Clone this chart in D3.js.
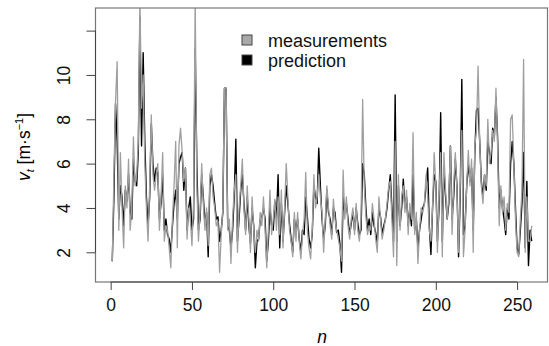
<!DOCTYPE html>
<html><head><meta charset="utf-8">
<script src="https://cdn.jsdelivr.net/npm/d3@7"></script>
<style>body{margin:0;background:#fff}svg{display:block}text{font-family:"Liberation Sans",Arial,Helvetica,sans-serif}</style>
</head><body><div id="chart"></div>
<script>
const measurements = [1.6,5.5,8.8,10.6,3.0,6.5,4.0,2.2,5.0,4.0,6.2,3.0,4.0,7.2,5.0,5.5,7.0,13.5,8.5,10.0,
6.0,4.0,2.5,5.0,8.2,5.5,4.8,5.5,6.0,3.0,4.5,6.5,2.5,3.2,3.0,2.2,1.3,3.5,5.0,7.0,
2.2,6.8,7.6,6.5,5.2,5.8,2.6,4.0,3.5,2.3,4.2,13.5,5.0,2.5,3.8,6.0,4.2,3.0,4.0,2.3,
5.5,5.8,4.5,4.0,3.2,3.4,1.1,2.8,4.0,9.4,9.4,3.0,3.5,1.5,3.5,4.8,5.5,2.0,4.0,5.0,
6.2,4.0,2.8,5.0,3.5,2.0,4.5,3.0,2.0,3.0,2.5,3.8,3.2,4.5,3.0,1.3,3.0,4.8,2.8,3.5,
4.4,3.0,4.5,2.8,4.8,2.2,4.0,6.0,4.5,3.0,2.5,1.8,3.8,2.5,3.8,2.5,1.7,2.8,3.5,5.6,
3.0,2.2,1.7,3.0,5.5,4.0,4.5,5.5,4.5,3.8,2.0,3.5,5.0,4.0,3.2,2.6,4.4,3.5,3.0,2.6,
2.2,1.6,5.7,3.5,4.5,3.2,2.6,3.5,4.0,2.8,4.2,3.0,2.5,3.5,8.9,5.0,3.6,2.8,3.2,3.0,
4.2,3.5,2.6,2.0,4.5,3.5,2.6,3.0,3.5,4.2,5.0,5.2,3.5,1.8,7.0,1.4,5.5,3.0,4.5,5.0,
3.8,4.8,2.8,4.2,3.5,7.4,2.8,3.8,1.5,3.0,4.0,3.8,4.2,5.5,4.5,3.0,2.5,4.0,6.5,5.0,
2.0,4.5,6.5,1.8,6.5,4.8,3.5,4.5,6.8,2.8,5.0,6.5,4.8,2.0,5.0,7.5,1.8,3.0,5.0,6.6,
5.0,6.2,2.0,6.8,7.5,10.4,7.0,5.0,4.2,5.5,5.0,8.0,6.0,6.5,7.5,7.0,9.4,6.8,3.2,5.0,
3.8,4.5,3.0,4.2,3.8,8.0,8.2,6.0,3.5,2.0,1.8,3.5,4.8,10.7,2.0,4.5,2.5,2.5,3.2];
const prediction = [1.6,4.5,8.7,7.0,3.5,5.0,4.5,3.2,4.8,4.3,5.5,3.8,3.5,6.2,5.2,5.0,6.5,12.6,6.8,11.0,
7.0,4.5,3.2,4.5,7.8,6.0,5.2,5.8,5.6,3.5,4.2,5.5,3.0,3.5,2.8,2.6,2.0,3.2,4.2,4.8,
3.5,6.0,6.3,6.5,4.8,5.8,3.0,4.0,4.5,3.0,3.5,11.2,6.0,3.0,3.5,5.5,4.5,3.3,3.8,1.8,
5.0,5.5,5.0,4.2,3.5,3.6,2.5,3.0,3.8,9.4,9.4,3.2,3.0,2.2,3.0,4.5,7.1,2.5,3.5,4.8,
5.5,4.2,3.0,4.5,3.2,2.4,4.0,3.2,1.3,2.5,2.6,3.5,3.6,4.0,3.5,1.6,2.5,4.0,3.2,3.0,
4.3,3.5,5.5,2.2,4.2,2.5,3.8,5.0,4.2,3.3,2.6,2.0,3.5,3.0,3.5,2.6,2.0,3.0,2.8,4.5,
3.6,2.6,2.2,2.8,5.0,4.5,4.2,6.7,5.0,3.5,2.6,3.2,4.8,3.8,3.5,2.8,4.0,3.8,2.9,3.0,
2.4,1.1,4.5,3.8,4.2,3.5,2.8,3.3,3.8,3.0,4.0,3.3,2.8,3.0,6.0,5.5,4.0,3.0,3.5,2.8,
3.8,3.2,2.9,2.4,4.0,3.6,2.8,3.2,3.5,4.0,4.8,5.5,4.0,2.5,9.1,2.5,5.0,3.2,4.0,5.3,
4.0,4.5,3.2,4.0,3.2,5.5,3.0,3.5,2.2,3.0,3.5,4.0,4.2,5.0,5.8,3.2,1.9,4.0,5.5,5.2,
2.5,4.0,8.3,2.5,5.8,4.5,3.5,4.2,6.8,3.5,4.5,6.2,5.0,1.8,4.5,9.8,2.8,3.2,5.0,6.0,
5.2,5.8,3.0,6.5,8.4,8.5,7.0,5.2,4.5,5.5,4.8,7.0,6.5,6.0,7.6,7.2,9.0,7.2,4.0,4.8,
4.0,3.5,2.8,4.0,3.5,6.0,7.0,6.0,4.0,2.2,1.9,3.0,4.2,6.5,2.2,5.2,1.4,3.0,2.5];
const xTicks = [0,50,100,150,200,250];
const yTicks = [2,4,6,8,10,12];
const yTickLabels = ["2","4","6","8","10",""];
const seriesNames = ["measurements","prediction"];
const seriesColors = ["#a9a9a9","#000000"];

const W=549,H=346, L=95.5, R=548.5, T=8, B=282;
const svg=d3.select("#chart").append("svg").attr("width",W).attr("height",H);
const x=d3.scaleLinear().domain([-9.32,269.32]).range([L,R]);
const y=d3.scaleLinear().domain([0.66,13.02]).range([B,T]);
const fs=17.5;

svg.append("clipPath").attr("id","clip").append("rect").attr("x",L).attr("y",T).attr("width",R-L).attr("height",B-T);

const line=d3.line().x((d,i)=>x(i+1)).y(d=>y(d));
const g=svg.append("g").attr("clip-path","url(#clip)");
g.append("path").datum(prediction).attr("d",line).attr("fill","none").attr("stroke",seriesColors[1]).attr("stroke-width",1.4).attr("stroke-linejoin","round");
g.append("path").datum(measurements).attr("d",line).attr("fill","none").attr("stroke","#9f9f9f").attr("stroke-width",1.3).attr("stroke-linejoin","round");

// box
svg.append("rect").attr("x",L).attr("y",T).attr("width",R-L-1).attr("height",B-T).attr("fill","none").attr("stroke","#777").attr("stroke-width",1.2);

// x axis
const xa=svg.append("g").attr("transform",`translate(0,${B})`).call(d3.axisBottom(x).tickValues(xTicks).tickSize(8).tickPadding(9));
xa.select(".domain").attr("d",`M${x(0)},0H${x(250)}`).attr("stroke","#444");
xa.selectAll(".tick line").attr("stroke","#444");
xa.selectAll("text").attr("font-size",fs).attr("fill","#111").attr("font-family","Liberation Sans, Arial, sans-serif");

// y axis
const ya=svg.append("g").attr("transform",`translate(${L},0)`).call(d3.axisLeft(y).tickValues(yTicks).tickSize(9).tickFormat((d,i)=>yTickLabels[i]));
ya.select(".domain").attr("d",`M0,${y(2)}V${y(12)}`).attr("stroke","#444");
ya.selectAll(".tick line").attr("stroke","#444");
ya.selectAll("text").attr("font-size",fs).attr("fill","#111").attr("font-family","Liberation Sans, Arial, sans-serif")
  .attr("x",null).attr("dy",null).attr("text-anchor","middle")
  .attr("transform","translate(-26,0) rotate(-90)");

// axis titles
svg.append("text").attr("x",(L+R)/2).attr("y",343).attr("text-anchor","middle").attr("font-size",fs).attr("font-style","italic").text("n");
const yl=svg.append("text").attr("transform",`translate(30,${(T+B)/2+2}) rotate(-90)`).attr("text-anchor","middle").attr("font-size",fs);
yl.append("tspan").attr("font-style","italic").text("v");
yl.append("tspan").attr("font-style","italic").attr("font-size",11).attr("dy",4).text("t");
yl.append("tspan").attr("dy",-4).text(" [m·s");
yl.append("tspan").attr("font-size",11).attr("dy",-7).text("−1");
yl.append("tspan").attr("dy",7).text("]");

// legend
const lg=svg.append("g");
seriesNames.forEach((s,i)=>{
  const cy=40+i*20;
  lg.append("rect").attr("x",242).attr("y",cy-5).attr("width",10).attr("height",10).attr("fill",seriesColors[i]).attr("stroke","#444").attr("stroke-width",1);
  lg.append("text").attr("x",268).attr("y",cy+7).attr("font-size",18).attr("fill","#111").text(s);
});
</script></body></html>
